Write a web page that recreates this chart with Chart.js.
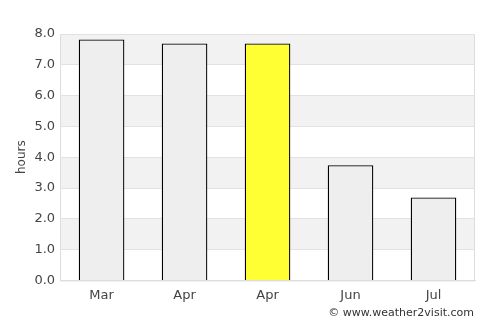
<!DOCTYPE html>
<html>
<head>
<meta charset="utf-8">
<script src="https://cdn.jsdelivr.net/npm/chart.js@4/dist/chart.umd.min.js"></script>
<style>
  html, body { margin: 0; padding: 0; background: #fff; }
  #wrap { position: relative; width: 500px; height: 325px; }
  #credit {
    position: absolute; right: 26px; top: 306px;
    font: 11px "DejaVu Sans", sans-serif; color: #333;
  }
</style>
</head>
<body>
<div id="wrap">
  <canvas id="chart" width="500" height="325"></canvas>
  <div id="credit">© www.weather2visit.com</div>
</div>
<script>
const months = ["Mar", "Apr", "Apr", "Jun", "Jul"]
const sunHours = [7.82, 7.69, 7.69, 3.74, 2.69]
const barColors = ["#eeeeee", "#eeeeee", "#ffff33", "#eeeeee", "#eeeeee"]
const yTicks = [0, 1, 2, 3, 4, 5, 6, 7, 8]

// alternating grey bands behind the bars
const bands = {
  id: "bands",
  beforeDraw(chart) {
    const { ctx, chartArea, scales } = chart
    const y = scales.y
    ctx.save()
    for (let i = 0; i < yTicks.length - 1; i++) {
      if (i % 2 === 0) continue
      const top = y.getPixelForValue(yTicks[i + 1])
      const bottom = y.getPixelForValue(yTicks[i])
      ctx.fillStyle = "#f2f2f2"
      ctx.fillRect(chartArea.left, top, chartArea.right - chartArea.left, bottom - top)
    }
    ctx.strokeStyle = "#dddddd"
    ctx.lineWidth = 1
    ctx.strokeRect(chartArea.left + 0.5, chartArea.top + 0.5, chartArea.right - chartArea.left - 1, chartArea.bottom - chartArea.top)
    ctx.restore()
  }
}

new Chart(document.getElementById("chart"), {
  type: "bar",
  data: {
    labels: months,
    datasets: [{
      data: sunHours,
      backgroundColor: barColors,
      borderColor: "#000000",
      borderWidth: 1.3,
      barPercentage: 0.55,
      categoryPercentage: 1
    }]
  },
  options: {
    responsive: false,
    animation: false,
    layout: { padding: { left: 15, right: 25, top: 34, bottom: 15 } },
    plugins: { legend: { display: false }, tooltip: { enabled: false } },
    scales: {
      x: {
        grid: { display: false, drawTicks: false },
        border: { color: "#dddddd" },
        ticks: { color: "#444", font: { family: "DejaVu Sans", size: 13 }, padding: 7 }
      },
      y: {
        min: 0,
        max: 8,
        grid: { color: "#e2e2e2", drawTicks: false },
        border: { display: false },
        ticks: {
          stepSize: 1,
          color: "#444",
          padding: 5,
          font: { family: "DejaVu Sans", size: 13 },
          callback: (v) => v.toFixed(1)
        },
        title: {
          display: true,
          text: "hours",
          color: "#444",
          font: { family: "DejaVu Sans", size: 12 },
          padding: { top: 0, bottom: 0 }
        }
      }
    }
  },
  plugins: [bands]
})
</script>
</body>
</html>
